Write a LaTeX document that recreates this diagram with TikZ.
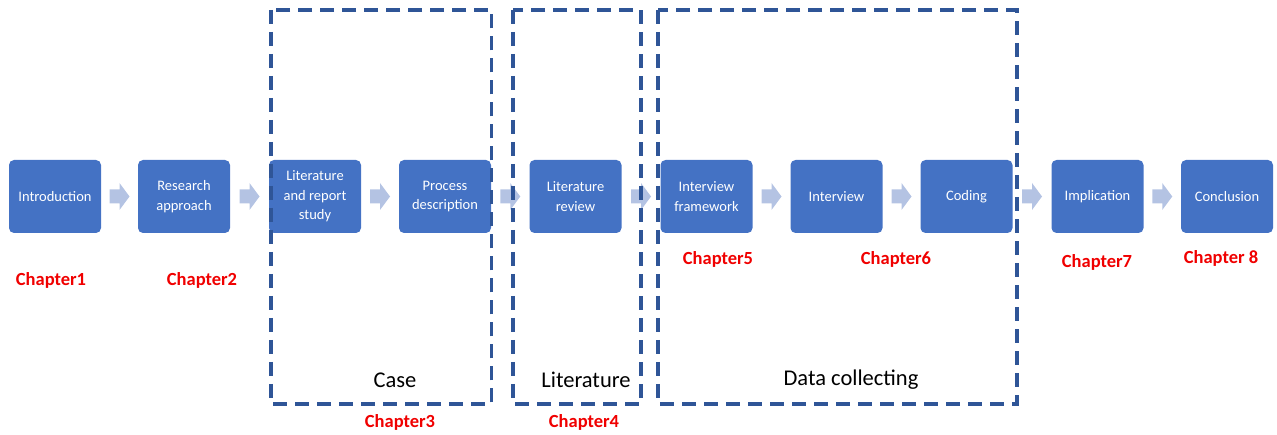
\documentclass[tikz,border=0pt]{standalone}
\usepackage{fontspec}
\setmainfont{Carlito}
\usetikzlibrary{calc}
\definecolor{boxblue}{HTML}{4472C4}
\definecolor{arrowblue}{HTML}{B4C3E3}
\definecolor{dashblue}{HTML}{2F5597}
\definecolor{chapred}{HTML}{F00000}
\tikzset{
  stepbox/.style={fill=boxblue, draw=none, rounded corners=5pt, minimum width=92pt,
    minimum height=73pt, inner sep=0pt, align=center, text=white,
    font=\fontsize{14.5}{19.5}\selectfont},
  chap/.style={text=chapred, font=\fontsize{18.5}{20}\selectfont\bfseries, inner sep=0pt},
  grouplabel/.style={text=black, font=\fontsize{22.5}{24}\selectfont, inner sep=0pt},
  dashbox/.style={draw=dashblue, line width=3.2pt, dash pattern=on 14pt off 8pt}
}
% chevron block arrow between two boxes
\newcommand{\chev}[2]{%
  \coordinate (m#1) at ($(#1.east)!0.5!(#2.west)$);
  \fill[arrowblue] (m#1) ++(-10,-7) -- ++(10,0) -- ++(0,-6.5) -- ++(10,13.5)
    -- ++(-10,13.5) -- ++(0,-6.5) -- ++(-10,0) -- cycle;
}
\begin{document}
\begin{tikzpicture}[x=1pt, y=-1pt]
\useasboundingbox (0,0) rectangle (1277,435);

% process steps
\node[stepbox] (intro) at (55,196.5) {Introduction};
\node[stepbox] (appr)  at (184,196.5) {Research\\approach};
\node[stepbox] (lit)   at (315,196.5) {Literature\\and report\\study};
\node[stepbox] (proc)  at (445,196.5) {Process\\description};
\node[stepbox] (rev)   at (575.5,196.5) {Literature\\review};
\node[stepbox] (frame) at (706.5,196.5) {Interview\\framework};
\node[stepbox] (intv)  at (836.5,196.5) {Interview};
\node[stepbox] (code)  at (966.5,196.5) {Coding};
\node[stepbox] (impl)  at (1097.5,196.5) {Implication};
\node[stepbox] (concl) at (1227,196.5) {Conclusion};

% arrows between steps
\chev{intro}{appr}
\chev{appr}{lit}
\chev{lit}{proc}
\chev{proc}{rev}
\chev{rev}{frame}
\chev{frame}{intv}
\chev{intv}{code}
\chev{code}{impl}
\chev{impl}{concl}

% groups
\draw[dashbox] (271,10) rectangle (491.5,404);
\draw[dashbox] (513,10) rectangle (641,404);
\draw[dashbox] (658,10) rectangle (1017,404);
\node[grouplabel] (gcase) at (395,380) {Case};
\node[grouplabel] (glit)  at (586,380) {Literature};
\node[grouplabel] (gdata) at (851,380) {Data collecting};

% chapter numbers
\node[chap] (c1) at (51,280) {Chapter1};
\node[chap] (c2) at (202,280) {Chapter2};
\node[chap] (c3) at (400,422) {Chapter3};
\node[chap] (c4) at (584,422) {Chapter4};
\node[chap] (c5) at (718,259) {Chapter5};
\node[chap] (c6) at (896,259) {Chapter6};
\node[chap] (c7) at (1097,262) {Chapter7};
\node[chap] (c8) at (1221,258) {Chapter 8};
\end{tikzpicture}
\end{document}
